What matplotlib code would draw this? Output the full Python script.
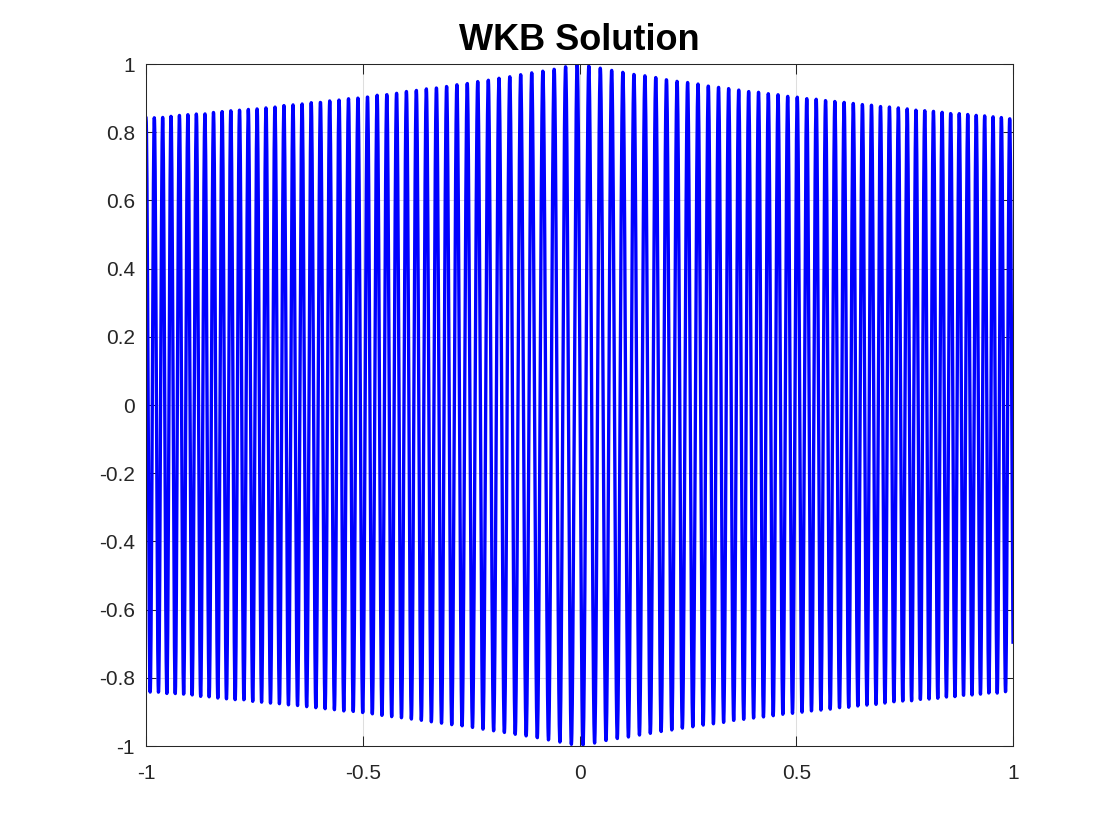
import numpy as np
import matplotlib
matplotlib.use("Agg")
import matplotlib.pyplot as plt
from matplotlib.ticker import FormatStrFormatter

# WKB solution y = Q^(-1/4) cos(k * int_{-1}^{x} sqrt(Q) dt), Q = 1 + |x|
# k: ~90 full cycles over [-1, 1]
k = 233.0
x_start, x_end = -1.0, 1.0
n_points = 4000

x_ticks = [-1, -0.5, 0, 0.5, 1]
y_ticks = [-1, -0.8, -0.6, -0.4, -0.2, 0, 0.2, 0.4, 0.6, 0.8, 1]
title_text = "WKB Solution"

x = np.linspace(x_start, x_end, n_points)
Q = 1 + np.abs(x)
# phase: integral of sqrt(1+|t|) from -1 to x
F = np.where(x < 0, -(2/3) * ((1 - x)**1.5 - 1), (2/3) * ((1 + x)**1.5 - 1))
phase = k * (F - F[0])
y = Q**-0.25 * np.cos(phase)

plt.rcParams["font.family"] = ["Liberation Sans", "DejaVu Sans"]
plt.rcParams["axes.unicode_minus"] = False

fig = plt.figure(figsize=(11.2, 8.4), dpi=100)
ax = fig.add_axes([0.1304, 0.1119, 0.7741, 0.8119])
ax.plot(x, y, color=(0.0, 0.0, 1.0), linewidth=2.4)

ax.set_xlim(-1, 1)
ax.set_ylim(-1, 1)
ax.set_xticks(x_ticks)
ax.set_yticks(y_ticks)
ax.xaxis.set_major_formatter(FormatStrFormatter("%g"))
ax.yaxis.set_major_formatter(FormatStrFormatter("%g"))
ax.grid(True, color=(0.15, 0.15, 0.15), alpha=0.15, linewidth=0.75)
ax.tick_params(direction="in", length=7, width=0.75, top=True, right=True,
               labelsize=15, colors=(0.15, 0.15, 0.15))
ax.tick_params(axis="x", pad=13)
ax.tick_params(axis="y", pad=8)
for s in ax.spines.values():
    s.set_color((0.15, 0.15, 0.15))
    s.set_linewidth(0.75)
ax.set_title(title_text, fontsize=26, fontweight="bold", pad=10)

fig.savefig("out.png", dpi=100)
